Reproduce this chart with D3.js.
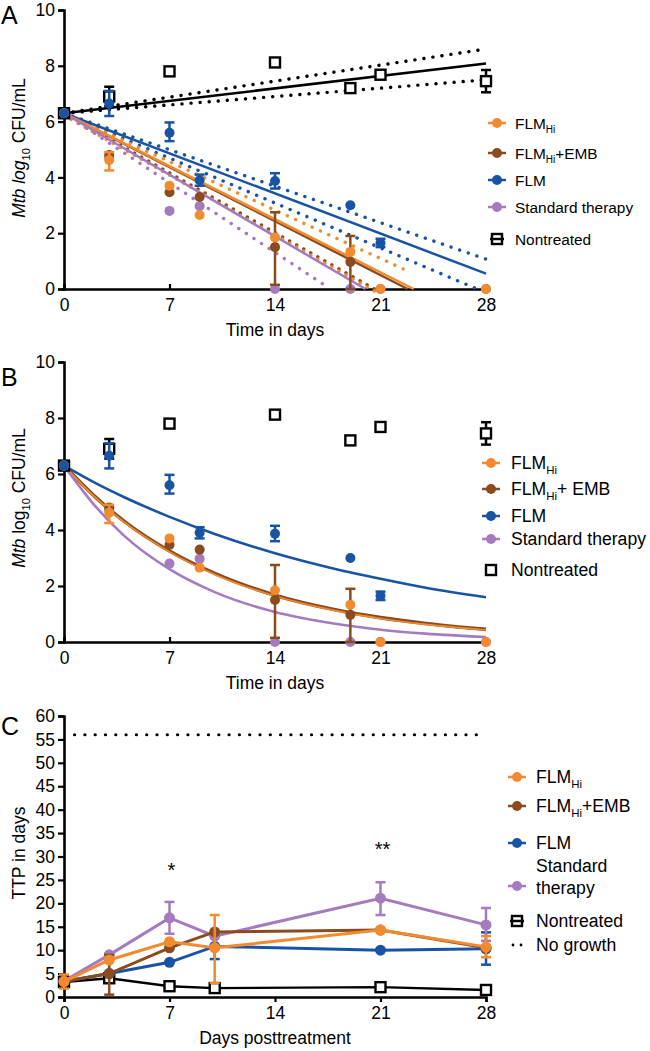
<!DOCTYPE html>
<html><head><meta charset="utf-8">
<script src="https://cdn.jsdelivr.net/npm/d3@7"></script>
<style>body{margin:0;background:#fff}svg{display:block}text{font-family:"Liberation Sans",Arial,Helvetica,sans-serif;fill:#000}</style>
</head><body>
<svg id="c" width="650" height="1051"></svg>
<script>
// ---------- colours / series names ----------
const seriesNames = ["FLM_Hi","FLM_Hi+EMB","FLM","Standard therapy","Nontreated"];
const colors = {"FLM_Hi":"#f28a30","FLM_Hi+EMB":"#8a4b1e","FLM":"#1853a4","Standard therapy":"#a47bbf","Nontreated":"#000"};

// ---------- Panels A/B: Mtb log10 CFU/mL : [day, mean, lo, hi] ----------
const cfuNontreated = [[0,6.3,6.2,6.42],[3,6.9,6.55,7.25],[7,7.8,7.65,7.95],[14,8.12],[19,7.2],[21,7.68],[28,7.45,7.05,7.85]];
const cfuFLM        = [[0,6.3],[3,6.65,6.2,7.1],[7,5.6,5.3,5.97],[9,3.9,3.7,4.1],[14,3.87,3.6,4.15],[19,3.0],[21,1.65,1.5,1.8]];
const cfuFLMHi      = [[0,6.3],[3,4.62,4.25,4.9],[7,3.7],[9,2.65],[14,1.85],[19,1.33],[21,0],[28,0]];
const cfuFLMHiEMB   = [[0,6.3],[3,4.8],[7,3.47],[9,3.3],[14,1.5,0.15,2.75],[19,0.97,0,1.9]];
const cfuStandard   = [[0,6.3],[3,4.7],[7,2.8],[9,2.97],[14,0],[19,0],[21,0],[28,0]];

// Panel A linear regressions (solid) and 95% bands (dotted): [day, value] endpoints
const linNontreated = [[0,6.3],[28,8.08]];
const linNontreatedHi = [[0,6.3],[28,8.6]];
const linNontreatedLo = [[0,6.3],[28,7.5]];
const linFLM = [[0,6.3],[28,0.55]];
const linFLMHi = [[0,6.3],[28,1.07]];
const linFLMLo = [[0,6.3],[27.4,0]];
const linFLMHiFit = [[0,6.3],[23.2,0]];
const linFLMHiEMBFit = [[0,6.3],[22.8,0]];
const linFLMHiUpper = [[0,6.3],[22.5,0.72]];
const linFLMHiLower = [[0,6.3],[20.6,0]];
const linStandard = [[0,6.3],[20.0,0]];
const linStandardLo = [[0,6.3],[17.4,0.1]];

// Panel B exponential decay fits
const fitDays     = [0,2,4,7,10,14,18,21,24,28];
const fitFLM      = [6.3,5.7,5.17,4.47,3.86,3.17,2.61,2.26,1.94,1.6];
const fitFLMHi    = [6.3,5.2,4.28,3.22,2.41,1.64,1.12,0.84,0.63,0.43];
const fitFLMHiEMB = [6.3,5.22,4.31,3.25,2.45,1.67,1.15,0.87,0.66,0.45];
const fitStandard = [6.3,4.9,3.79,2.6,1.78,1.07,0.65,0.44,0.3,0.18];

// ---------- Panel C: TTP in days : [day, mean, lo, hi] ----------
const ttpNontreated = [[0,3.2,2.2,4.4],[3,4.0],[7,2.3],[10,1.9],[21,2.1],[28,1.5]];
const ttpFLM        = [[0,3.3],[3,5.0],[7,7.4],[10,10.8,8.1,13.5],[21,10.0],[28,10.3,6.9,13.8]];
const ttpFLMHiEMB   = [[0,3.3],[3,5.0,0.5,9.0],[7,10.5],[10,13.9],[21,14.3],[28,10.5]];
const ttpFLMHi      = [[0,3.3,1.8,4.8],[3,7.9],[7,11.8],[10,10.5,3.0,17.5],[21,14.3],[28,10.7,8.5,13.0]];
const ttpStandard   = [[0,3.4],[3,9.0],[7,16.9,13.5,20.3],[10,13.0],[21,21.1,17.5,24.5],[28,15.4,12.0,19.0]];
const noGrowth = 56;
const stars = [[7,27.5,"*"],[21,32,"**"]];

const xTicks = [0,7,14,21,28];
const yTicksAB = [0,2,4,6,8,10];
const yTicksC = [0,5,10,15,20,25,30,35,40,45,50,55,60];

// ---------- drawing ----------
const svg = d3.select("#c");
const x = d3.scaleLinear().domain([0,28]).range([64,486]);
const yA = d3.scaleLinear().domain([0,10]).range([289,10]);
const yB = d3.scaleLinear().domain([0,10]).range([642,362]);
const yC = d3.scaleLinear().domain([0,60]).range([997,716]);

function axes(y, yt, xLabel, yLabelFn, yLabelY, letter, letterY, xTickInward){
  const gx = svg.append("g").attr("transform",`translate(0,${y.range()[0]})`)
    .call(d3.axisBottom(x).tickValues(xTicks).tickSize(xTickInward?-5:5).tickPadding(xTickInward?10:5).tickFormat(d3.format("d")));
  const gy = svg.append("g").attr("transform",`translate(${x.range()[0]},0)`)
    .call(d3.axisLeft(y).tickValues(yt).tickSize(6).tickPadding(3).tickFormat(d3.format("d")));
  [gx,gy].forEach(g=>{
    g.select(".domain").attr("stroke","#000").attr("stroke-width",2.6);
    g.selectAll(".tick line").attr("stroke","#000").attr("stroke-width",2.2);
    g.selectAll(".tick text").attr("font-size",17.5).attr("fill","#000")
      .style("font-family",'"Liberation Sans",Arial,sans-serif');
  });
  svg.append("text").attr("x",(x.range()[0]+x.range()[1])/2).attr("y",y.range()[0]+47)
    .attr("text-anchor","middle").attr("font-size",17.5).text(xLabel);
  const t = svg.append("text").attr("transform",`translate(25,${yLabelY}) rotate(-90)`)
    .attr("text-anchor","middle").attr("font-size",17.5);
  yLabelFn(t);
  svg.append("text").attr("x",1).attr("y",letterY).attr("font-size",25).text(letter);
}

function errorBars(g, data, y, color){
  data.filter(d=>d[2]!=null).forEach(d=>{
    const cx = x(d[0]);
    g.append("line").attr("x1",cx).attr("x2",cx).attr("y1",y(d[2])).attr("y2",y(d[3]))
      .attr("stroke",color).attr("stroke-width",2.5);
    [d[2],d[3]].forEach(v=>g.append("line").attr("x1",cx-5).attr("x2",cx+5).attr("y1",y(v)).attr("y2",y(v))
      .attr("stroke",color).attr("stroke-width",2.5));
  });
}
function circles(g, data, y, color, r){
  g.selectAll(null).data(data).enter().append("circle")
    .attr("cx",d=>x(d[0])).attr("cy",d=>y(d[1])).attr("r",r).attr("fill",color);
}
function squares(g, data, y){
  g.selectAll(null).data(data).enter().append("rect")
    .attr("x",d=>x(d[0])-5).attr("y",d=>y(d[1])-5).attr("width",10).attr("height",10)
    .attr("fill","#fff").attr("stroke","#000").attr("stroke-width",2.4);
}
function seg(g, pts, y, color, width, dash, offset){
  g.append("path").attr("d",d3.line().x(d=>x(d[0])).y(d=>y(d[1])+(offset||0))(pts))
    .attr("fill","none").attr("stroke",color).attr("stroke-width",width)
    .attr("stroke-dasharray",dash||null).attr("stroke-linecap",dash?"round":"butt");
}

// ===== Panel A =====
axes(yA, yTicksAB, "Time in days", t=>{
  t.append("tspan").attr("font-style","italic").text("Mtb ");
  t.append("tspan").attr("font-style","italic").text("log");
  t.append("tspan").attr("font-size",11).attr("dy",5).text("10");
  t.append("tspan").attr("dy",-5).text(" CFU/mL");
}, 148, "A", 24, true);
const gA = svg.append("g");
const dotP = "0.1 9";
seg(gA, linNontreatedHi, yA, "#000", 3.4, dotP);
seg(gA, linNontreatedLo, yA, "#000", 3.4, dotP);
seg(gA, linFLMHi, yA, colors.FLM, 3.4, dotP);
seg(gA, linFLMLo, yA, colors.FLM, 3.4, dotP);
seg(gA, linFLMHiUpper, yA, colors.FLM_Hi, 3.4, dotP);
seg(gA, linFLMHiLower, yA, colors["FLM_Hi+EMB"], 3.4, "0.1 8");
seg(gA, linFLMHiLower, yA, colors.FLM_Hi, 3.4, "0.1 8", 2.2);
seg(gA, linStandardLo, yA, colors["Standard therapy"], 3.4, dotP);
seg(gA, linNontreated, yA, "#000", 2.5);
seg(gA, linFLM, yA, colors.FLM, 2.5);
seg(gA, linFLMHiEMBFit, yA, colors["FLM_Hi+EMB"], 2.5);
seg(gA, linFLMHiFit, yA, colors.FLM_Hi, 2.5);
seg(gA, linStandard, yA, colors["Standard therapy"], 2.5);
function cfuPoints(g, y){
  errorBars(g, cfuNontreated, y, "#000");
  squares(g, cfuNontreated, y);
  errorBars(g, cfuStandard, y, colors["Standard therapy"]); circles(g, cfuStandard, y, colors["Standard therapy"], 5);
  errorBars(g, cfuFLMHiEMB, y, colors["FLM_Hi+EMB"]); circles(g, cfuFLMHiEMB, y, colors["FLM_Hi+EMB"], 5);
  errorBars(g, cfuFLMHi, y, colors.FLM_Hi); circles(g, cfuFLMHi, y, colors.FLM_Hi, 5);
  errorBars(g, cfuFLM, y, colors.FLM); circles(g, cfuFLM, y, colors.FLM, 5);
}
cfuPoints(gA, yA);

// legend helpers
function legend(items, x0, tx, fs){
  const g = svg.append("g");
  items.forEach(it=>{
    const c = colors[it.key];
    if(it.kind==="circle"){
      g.append("line").attr("x1",x0-9).attr("x2",x0+9).attr("y1",it.y).attr("y2",it.y).attr("stroke",c).attr("stroke-width",2.5);
      g.append("circle").attr("cx",x0).attr("cy",it.y).attr("r",5).attr("fill",c);
    } else if(it.kind==="square"){
      if(it.line) g.append("line").attr("x1",x0-7).attr("x2",x0+7).attr("y1",it.y).attr("y2",it.y).attr("stroke","#000").attr("stroke-width",2.5);
      g.append("rect").attr("x",x0-5).attr("y",it.y-5).attr("width",10).attr("height",10).attr("fill","none").attr("stroke","#000").attr("stroke-width",2.4);
    } else if(it.kind==="dots"){
      g.append("circle").attr("cx",x0-4).attr("cy",it.y).attr("r",1.4).attr("fill","#000");
      g.append("circle").attr("cx",x0+4).attr("cy",it.y).attr("r",1.4).attr("fill","#000");
    }
    const t = g.append("text").attr("x",tx).attr("y",it.y+fs*0.36).attr("font-size",fs);
    it.text(t, fs, it.y);
  });
}
const hiLabel = (suffix)=> (t,fs)=>{ t.append("tspan").text("FLM"); t.append("tspan").attr("font-size",fs*0.65).attr("dy",fs*0.28).text("Hi");
  if(suffix) t.append("tspan").attr("dy",-fs*0.28).text(suffix); };
const plain = s => (t)=>t.text(s);

legend([
  {key:"FLM_Hi",kind:"circle",y:123,text:hiLabel(null)},
  {key:"FLM_Hi+EMB",kind:"circle",y:153,text:hiLabel("+EMB")},
  {key:"FLM",kind:"circle",y:180,text:plain("FLM")},
  {key:"Standard therapy",kind:"circle",y:207,text:plain("Standard therapy")},
  {key:"Nontreated",kind:"square",line:true,y:239,text:plain("Nontreated")}
], 497, 515, 15.4);

// ===== Panel B =====
axes(yB, yTicksAB, "Time in days", t=>{
  t.append("tspan").attr("font-style","italic").text("Mtb ");
  t.append("tspan").text("log");
  t.append("tspan").attr("font-size",11).attr("dy",5).text("10");
  t.append("tspan").attr("dy",-5).text(" CFU/mL");
}, 498, "B", 386, true);
const gB = svg.append("g");
const curve = (vals)=> fitDays.map((d,i)=>[d, vals[i]]);
function fitLine(vals, color, w){
  gB.append("path").attr("d", d3.line().curve(d3.curveMonotoneX).x(d=>x(d[0])).y(d=>yB(d[1]))(curve(vals)))
    .attr("fill","none").attr("stroke",color).attr("stroke-width",w);
}
fitLine(fitFLM, colors.FLM, 2.6);
fitLine(fitFLMHiEMB, colors["FLM_Hi+EMB"], 3.6);
fitLine(fitFLMHi, colors.FLM_Hi, 1.6);
fitLine(fitStandard, colors["Standard therapy"], 2.6);
cfuPoints(gB, yB);

legend([
  {key:"FLM_Hi",kind:"circle",y:463,text:hiLabel(null)},
  {key:"FLM_Hi+EMB",kind:"circle",y:489,text:hiLabel("+ EMB")},
  {key:"FLM",kind:"circle",y:516,text:plain("FLM")},
  {key:"Standard therapy",kind:"circle",y:539,text:plain("Standard therapy")},
  {key:"Nontreated",kind:"square",line:false,y:570,text:plain("Nontreated")}
], 491, 511, 17.6);

// ===== Panel C =====
axes(yC, yTicksC, "Days posttreatment", t=>{ t.text("TTP in days"); }, 853, "C", 735, false);
const gC = svg.append("g");
gC.append("line").attr("x1",x(0.7)).attr("x2",x(28)).attr("y1",yC(noGrowth)).attr("y2",yC(noGrowth))
  .attr("stroke","#000").attr("stroke-width",3.2).attr("stroke-dasharray","0.1 10.2").attr("stroke-linecap","round");
function ttpSeries(data, color, isSquare){
  seg(gC, data.map(d=>[d[0],d[1]]), yC, color, isSquare?2.4:3);
  errorBars(gC, data, yC, color);
  if(isSquare) squares(gC, data, yC); else circles(gC, data, yC, color, 5.5);
}
ttpSeries(ttpNontreated, "#000", true);
ttpSeries(ttpFLM, colors.FLM);
ttpSeries(ttpStandard, colors["Standard therapy"]);
ttpSeries(ttpFLMHiEMB, colors["FLM_Hi+EMB"]);
ttpSeries(ttpFLMHi, colors.FLM_Hi);
stars.forEach(s=>gC.append("text").attr("x",x(s[0])+2).attr("y",yC(s[1])+9).attr("text-anchor","middle").attr("font-size",20).text(s[2]));

legend([
  {key:"FLM_Hi",kind:"circle",y:777,text:hiLabel(null)},
  {key:"FLM_Hi+EMB",kind:"circle",y:806,text:hiLabel("+EMB")},
  {key:"FLM",kind:"circle",y:843,text:plain("FLM")},
  {key:"Standard therapy",kind:"circle",y:886,text:(t,fs)=>{
     t.append("tspan").attr("x",536).attr("y",876+fs*0.36-10).text("Standard");
     t.append("tspan").attr("x",536).attr("y",876+fs*0.36+12).text("therapy"); }},
  {key:"Nontreated",kind:"square",line:true,y:921,text:plain("Nontreated")},
  {key:"No growth",kind:"dots",y:945,text:plain("No growth")}
], 517, 536, 17.6);
</script>
</body></html>
